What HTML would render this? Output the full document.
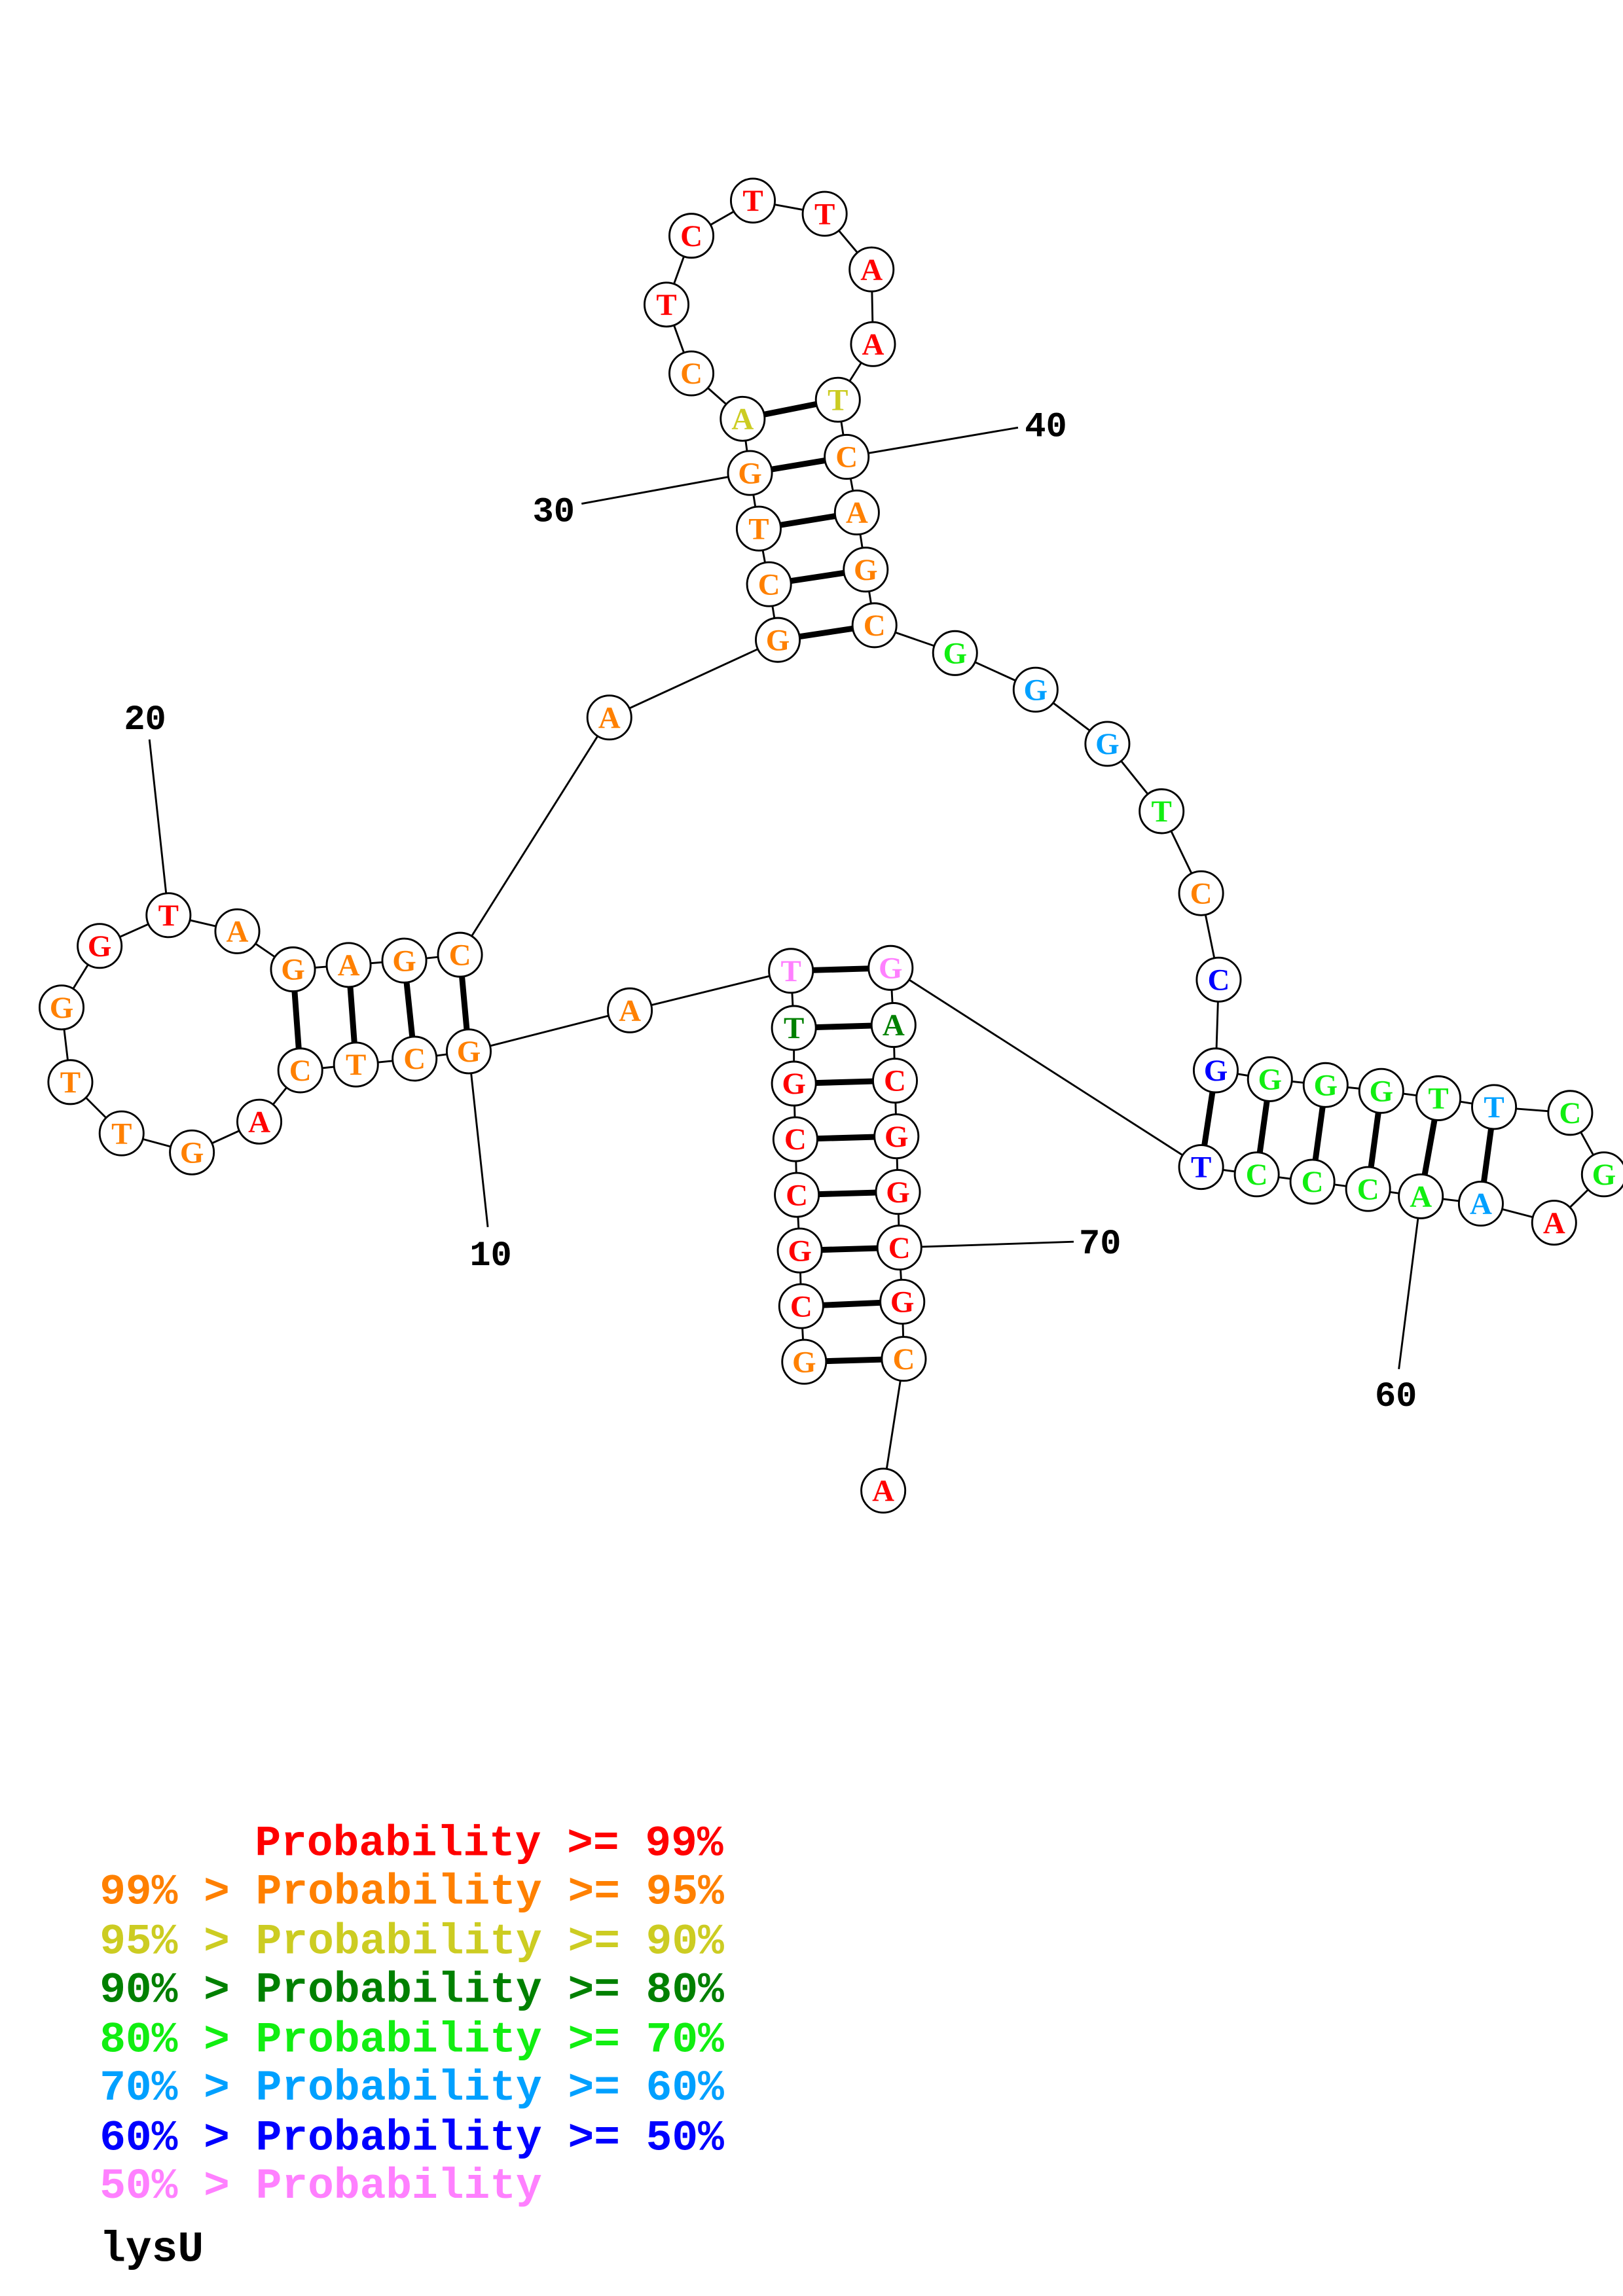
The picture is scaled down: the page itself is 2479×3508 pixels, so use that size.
<!DOCTYPE html>
<html><head><meta charset="utf-8"><style>
html,body{margin:0;padding:0;background:#fff;}
svg{display:block;}
.n circle{fill:#fff;stroke:#000;stroke-width:1.3;}
.n text{font-family:"Liberation Serif",serif;font-weight:bold;font-size:21px;text-anchor:middle;}
.r{fill:#ff0000}.o{fill:#ff8000}.y{fill:#cccc22}.d{fill:#008000}.g{fill:#11ee11}.c{fill:#00a0ff}.b{fill:#0000ff}.p{fill:#ff80ff}
.lg{font-family:"Liberation Mono",monospace;font-weight:bold;font-size:29.6px;}
.lb{font-family:"Liberation Mono",monospace;font-weight:bold;font-size:24px;fill:#000;}
</style></head><body>
<svg width="2479" height="3508" viewBox="0 0 1108 1568" xmlns="http://www.w3.org/2000/svg">
<rect width="1108" height="1568" fill="#fff"/>
<g stroke="#000" stroke-width="1.3" fill="none">
<polyline points="549,930 547,892 546,854 544,816 543,778 542,740 542,702 540,663 430,690 320,718 283,723 243,727 205,731 177,766 131,787 83,774 48,739 42,688 68,646 115,625 162,636 200,662 238,659 276,656 314,652 416,490 531,437 525,399 518,361 512,323 507,286 472,255 455,208 472,161 514,137 563,146 595,184 596,235 572,273 578,312 585,350 591,389 597,427 652,446 707,471 756,508 793,554 820,610 832,669 830,731 867,737 905,741 943,745 982,750 1020,756 1072,760 1095,802 1061,835 1011,822 970,817 934,812 896,807 858,802 820,797 608,661 610,700 611,738 612,776 613,814 614,852 616,889 617,928 603,1018"/>
<line x1="320" y1="718" x2="333" y2="838"/>
<line x1="115" y1="625" x2="102" y2="505"/>
<line x1="512" y1="323" x2="397" y2="344"/>
<line x1="578" y1="312" x2="695" y2="292"/>
<line x1="970" y1="817" x2="955" y2="935"/>
<line x1="614" y1="852" x2="733" y2="848"/>
</g>
<g stroke="#000" stroke-width="4">
<line x1="549" y1="930" x2="617" y2="928"/><line x1="547" y1="892" x2="616" y2="889"/>
<line x1="546" y1="854" x2="614" y2="852"/><line x1="544" y1="816" x2="613" y2="814"/>
<line x1="543" y1="778" x2="612" y2="776"/><line x1="542" y1="740" x2="611" y2="738"/>
<line x1="542" y1="702" x2="610" y2="700"/><line x1="540" y1="663" x2="608" y2="661"/>
<line x1="320" y1="718" x2="314" y2="652"/><line x1="283" y1="723" x2="276" y2="656"/>
<line x1="243" y1="727" x2="238" y2="659"/><line x1="205" y1="731" x2="200" y2="662"/>
<line x1="531" y1="437" x2="597" y2="427"/><line x1="525" y1="399" x2="591" y2="389"/>
<line x1="518" y1="361" x2="585" y2="350"/><line x1="512" y1="323" x2="578" y2="312"/>
<line x1="507" y1="286" x2="572" y2="273"/>
<line x1="830" y1="731" x2="820" y2="797"/><line x1="867" y1="737" x2="858" y2="802"/>
<line x1="905" y1="741" x2="896" y2="807"/><line x1="943" y1="745" x2="934" y2="812"/>
<line x1="982" y1="750" x2="970" y2="817"/><line x1="1020" y1="756" x2="1011" y2="822"/>
</g>
<g class="n">
<circle cx="549" cy="930" r="15"/><text x="549" y="937" class="o">G</text>
<circle cx="547" cy="892" r="15"/><text x="547" y="899" class="r">C</text>
<circle cx="546" cy="854" r="15"/><text x="546" y="861" class="r">G</text>
<circle cx="544" cy="816" r="15"/><text x="544" y="823" class="r">C</text>
<circle cx="543" cy="778" r="15"/><text x="543" y="785" class="r">C</text>
<circle cx="542" cy="740" r="15"/><text x="542" y="747" class="r">G</text>
<circle cx="542" cy="702" r="15"/><text x="542" y="709" class="d">T</text>
<circle cx="540" cy="663" r="15"/><text x="540" y="670" class="p">T</text>
<circle cx="430" cy="690" r="15"/><text x="430" y="697" class="o">A</text>
<circle cx="320" cy="718" r="15"/><text x="320" y="725" class="o">G</text>
<circle cx="283" cy="723" r="15"/><text x="283" y="730" class="o">C</text>
<circle cx="243" cy="727" r="15"/><text x="243" y="734" class="o">T</text>
<circle cx="205" cy="731" r="15"/><text x="205" y="738" class="o">C</text>
<circle cx="177" cy="766" r="15"/><text x="177" y="773" class="r">A</text>
<circle cx="131" cy="787" r="15"/><text x="131" y="794" class="o">G</text>
<circle cx="83" cy="774" r="15"/><text x="83" y="781" class="o">T</text>
<circle cx="48" cy="739" r="15"/><text x="48" y="746" class="o">T</text>
<circle cx="42" cy="688" r="15"/><text x="42" y="695" class="o">G</text>
<circle cx="68" cy="646" r="15"/><text x="68" y="653" class="r">G</text>
<circle cx="115" cy="625" r="15"/><text x="115" y="632" class="r">T</text>
<circle cx="162" cy="636" r="15"/><text x="162" y="643" class="o">A</text>
<circle cx="200" cy="662" r="15"/><text x="200" y="669" class="o">G</text>
<circle cx="238" cy="659" r="15"/><text x="238" y="666" class="o">A</text>
<circle cx="276" cy="656" r="15"/><text x="276" y="663" class="o">G</text>
<circle cx="314" cy="652" r="15"/><text x="314" y="659" class="o">C</text>
<circle cx="416" cy="490" r="15"/><text x="416" y="497" class="o">A</text>
<circle cx="531" cy="437" r="15"/><text x="531" y="444" class="o">G</text>
<circle cx="525" cy="399" r="15"/><text x="525" y="406" class="o">C</text>
<circle cx="518" cy="361" r="15"/><text x="518" y="368" class="o">T</text>
<circle cx="512" cy="323" r="15"/><text x="512" y="330" class="o">G</text>
<circle cx="507" cy="286" r="15"/><text x="507" y="293" class="y">A</text>
<circle cx="472" cy="255" r="15"/><text x="472" y="262" class="o">C</text>
<circle cx="455" cy="208" r="15"/><text x="455" y="215" class="r">T</text>
<circle cx="472" cy="161" r="15"/><text x="472" y="168" class="r">C</text>
<circle cx="514" cy="137" r="15"/><text x="514" y="144" class="r">T</text>
<circle cx="563" cy="146" r="15"/><text x="563" y="153" class="r">T</text>
<circle cx="595" cy="184" r="15"/><text x="595" y="191" class="r">A</text>
<circle cx="596" cy="235" r="15"/><text x="596" y="242" class="r">A</text>
<circle cx="572" cy="273" r="15"/><text x="572" y="280" class="y">T</text>
<circle cx="578" cy="312" r="15"/><text x="578" y="319" class="o">C</text>
<circle cx="585" cy="350" r="15"/><text x="585" y="357" class="o">A</text>
<circle cx="591" cy="389" r="15"/><text x="591" y="396" class="o">G</text>
<circle cx="597" cy="427" r="15"/><text x="597" y="434" class="o">C</text>
<circle cx="652" cy="446" r="15"/><text x="652" y="453" class="g">G</text>
<circle cx="707" cy="471" r="15"/><text x="707" y="478" class="c">G</text>
<circle cx="756" cy="508" r="15"/><text x="756" y="515" class="c">G</text>
<circle cx="793" cy="554" r="15"/><text x="793" y="561" class="g">T</text>
<circle cx="820" cy="610" r="15"/><text x="820" y="617" class="o">C</text>
<circle cx="832" cy="669" r="15"/><text x="832" y="676" class="b">C</text>
<circle cx="830" cy="731" r="15"/><text x="830" y="738" class="b">G</text>
<circle cx="867" cy="737" r="15"/><text x="867" y="744" class="g">G</text>
<circle cx="905" cy="741" r="15"/><text x="905" y="748" class="g">G</text>
<circle cx="943" cy="745" r="15"/><text x="943" y="752" class="g">G</text>
<circle cx="982" cy="750" r="15"/><text x="982" y="757" class="g">T</text>
<circle cx="1020" cy="756" r="15"/><text x="1020" y="763" class="c">T</text>
<circle cx="1072" cy="760" r="15"/><text x="1072" y="767" class="g">C</text>
<circle cx="1095" cy="802" r="15"/><text x="1095" y="809" class="g">G</text>
<circle cx="1061" cy="835" r="15"/><text x="1061" y="842" class="r">A</text>
<circle cx="1011" cy="822" r="15"/><text x="1011" y="829" class="c">A</text>
<circle cx="970" cy="817" r="15"/><text x="970" y="824" class="g">A</text>
<circle cx="934" cy="812" r="15"/><text x="934" y="819" class="g">C</text>
<circle cx="896" cy="807" r="15"/><text x="896" y="814" class="g">C</text>
<circle cx="858" cy="802" r="15"/><text x="858" y="809" class="g">C</text>
<circle cx="820" cy="797" r="15"/><text x="820" y="804" class="b">T</text>
<circle cx="608" cy="661" r="15"/><text x="608" y="668" class="p">G</text>
<circle cx="610" cy="700" r="15"/><text x="610" y="707" class="d">A</text>
<circle cx="611" cy="738" r="15"/><text x="611" y="745" class="r">C</text>
<circle cx="612" cy="776" r="15"/><text x="612" y="783" class="r">G</text>
<circle cx="613" cy="814" r="15"/><text x="613" y="821" class="r">G</text>
<circle cx="614" cy="852" r="15"/><text x="614" y="859" class="r">C</text>
<circle cx="616" cy="889" r="15"/><text x="616" y="896" class="r">G</text>
<circle cx="617" cy="928" r="15"/><text x="617" y="935" class="o">C</text>
<circle cx="603" cy="1018" r="15"/><text x="603" y="1025" class="r">A</text>
</g>
<text class="lb" x="335" y="864" text-anchor="middle">10</text>
<text class="lb" x="99" y="498" text-anchor="middle">20</text>
<text class="lb" x="378" y="356" text-anchor="middle">30</text>
<text class="lb" x="714" y="298" text-anchor="middle">40</text>
<text class="lb" x="953" y="960" text-anchor="middle">60</text>
<text class="lb" x="751" y="856" text-anchor="middle">70</text>
<g class="lg">
<text x="174" y="1267" class="r">Probability &gt;= 99%</text>
<text x="68" y="1300" class="o">99% &gt; Probability &gt;= 95%</text>
<text x="68" y="1334" class="y">95% &gt; Probability &gt;= 90%</text>
<text x="68" y="1367" class="d">90% &gt; Probability &gt;= 80%</text>
<text x="68" y="1401" class="g">80% &gt; Probability &gt;= 70%</text>
<text x="68" y="1434" class="c">70% &gt; Probability &gt;= 60%</text>
<text x="68" y="1468" class="b">60% &gt; Probability &gt;= 50%</text>
<text x="68" y="1501" class="p">50% &gt; Probability</text>
<text x="68" y="1544" fill="#000">lysU</text>
</g>
</svg>
</body></html>
